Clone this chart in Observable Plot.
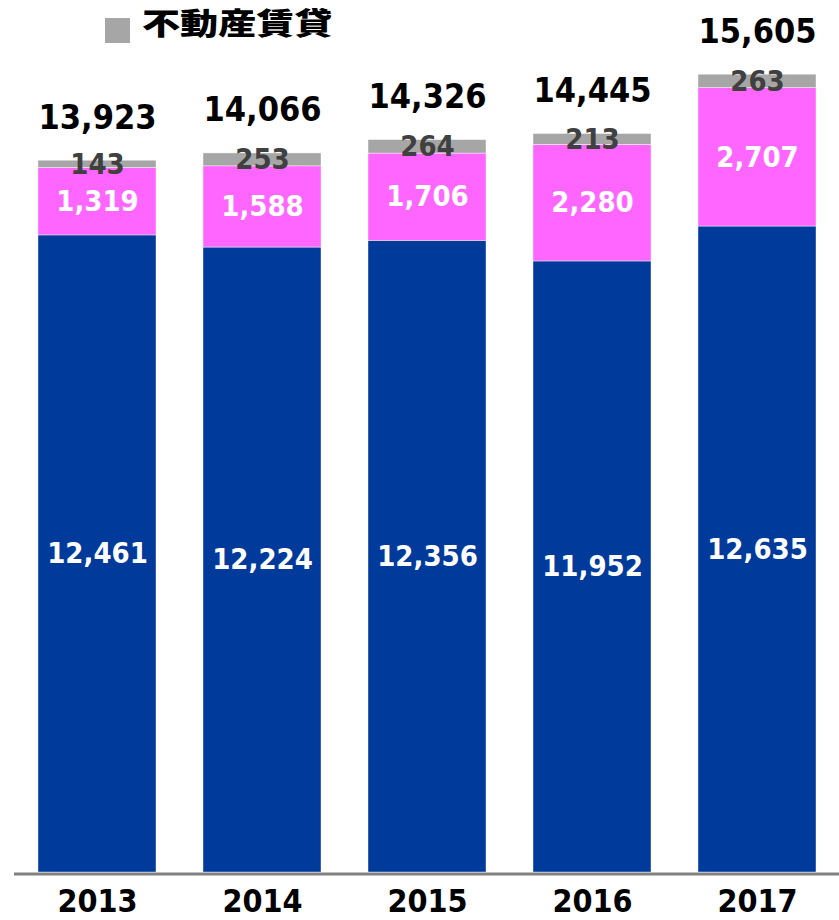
<!DOCTYPE html>
<html>
<head>
<meta charset="utf-8">
<script src="https://cdn.jsdelivr.net/npm/d3@7"></script>
<script src="https://cdn.jsdelivr.net/npm/@observablehq/plot@0.6"></script>
<style>
  html, body { margin: 0; padding: 0; background: #fff; }
  #wrap { position: relative; width: 839px; height: 920px; overflow: hidden; }
  #legend-swatch { position: absolute; left: 105px; top: 18px; width: 25px; height: 25px; background: #a6a6a6; }
  #legend-text { position: absolute; left: 142px; top: 3px; font-family: "Noto Sans CJK JP", sans-serif; font-weight: 900; font-size: 30px; line-height: 1.2; color: #000; transform: scaleX(1.27); transform-origin: left top; white-space: nowrap; }
  #chart { position: absolute; left: 0; top: 0; }
</style>
</head>
<body>
<div id="wrap">
  <div id="chart"></div>
  <div id="legend-swatch"></div>
  <div id="legend-text">不動産賃貸</div>
</div>
<script>
const years = ["2013", "2014", "2015", "2016", "2017"];
const seriesNames = ["main", "other", "不動産賃貸"];
const blueValues = [12461, 12224, 12356, 11952, 12635];
const magentaValues = [1319, 1588, 1706, 2280, 2707];
const grayValues = [143, 253, 264, 213, 263];
const totals = [13923, 14066, 14326, 14445, 15605];
const seriesColors = ["#003a9a", "#ff66ff", "#a6a6a6"];
const labelColors = ["#ffffff", "#ffffff", "#404040"];

const rows = [];
years.forEach((yr, i) => {
  [blueValues, magentaValues, grayValues].forEach((arr, s) => {
    rows.push({year: yr, series: seriesNames[s], value: arr[i], labelColor: labelColors[s]});
  });
});
const totalRows = years.map((yr, i) => ({year: yr, total: totals[i]}));

const font = "'DejaVu Sans Condensed', 'DejaVu Sans', sans-serif";

const chart = Plot.plot({
  width: 839,
  height: 920,
  marginLeft: 14,
  marginRight: 0,
  marginTop: 54,
  marginBottom: 48,
  style: {fontFamily: font, fontWeight: "bold", fontStretch: "condensed", background: "transparent"},
  x: {domain: years, paddingInner: 0.2874, paddingOuter: 0.1347, label: null},
  y: {domain: [0, 16000], axis: null},
  color: {domain: seriesNames, range: seriesColors},
  marks: [
    Plot.barY(rows, {x: "year", y: "value", fill: "series", stroke: "#ffffff", strokeWidth: 0.6, strokeOpacity: 0.7}),
    Plot.text(rows, Plot.stackY({x: "year", y: "value", text: d => d3.format(",")(d.value), fill: "labelColor", fontSize: 29, fontWeight: "bold"})),
    Plot.text(totalRows, {x: "year", y: "total", text: d => d3.format(",")(d.total), fill: "#000", fontSize: 34, fontWeight: "bold", dy: -43}),
    Plot.ruleY([0], {stroke: "#808080", strokeWidth: 3, dy: 1.5}),
    Plot.axisX({tickSize: 0, tickPadding: 17, fontSize: 32, fontWeight: "bold", fill: "#000", label: null})
  ]
});
document.getElementById("chart").appendChild(chart);
</script>
</body>
</html>
